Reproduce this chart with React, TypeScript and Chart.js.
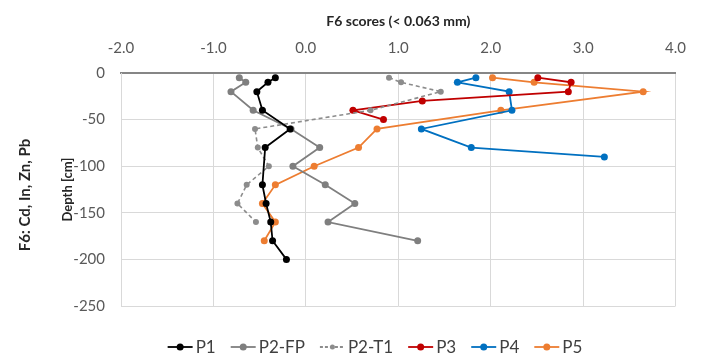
import React, { useEffect, useRef } from "react";
import { Chart, registerables } from "chart.js";

Chart.register(...registerables);

const FONT = "Lato, 'Open Sans', sans-serif";

const xTitle = "F6 scores (< 0.063 mm)";
const yTitle = "Depth [cm]";
const outerTitle = "F6: Cd, In, Zn, Pb";

const xMin = -2;
const xMax = 4;
const yMin = -250;
const yMax = 0;

const seriesNames = ["P1", "P2-FP", "P2-T1", "P3", "P4", "P5"];
const seriesColors = ["#000000", "#7f7f7f", "#8c8c8c", "#c00000", "#0070c0", "#ed7d31"];

const p1Depth = [-5, -10, -20, -40, -60, -80, -120, -140, -160, -180, -200];
const p1Score = [-0.33, -0.41, -0.53, -0.47, -0.17, -0.44, -0.47, -0.43, -0.38, -0.36, -0.21];

const p2fpDepth = [-5, -10, -20, -40, -60, -80, -100, -120, -140, -160, -180];
const p2fpScore = [-0.72, -0.65, -0.81, -0.57, -0.16, 0.15, -0.14, 0.21, 0.53, 0.24, 1.21];

const p2t1Depth = [-5, -10, -20, -40, -60, -80, -100, -120, -140, -160];
const p2t1Score = [0.9, 1.03, 1.46, 0.7, -0.55, -0.52, -0.4, -0.64, -0.74, -0.54];

const p3Depth = [-5, -10, -20, -30, -40, -50];
const p3Score = [2.51, 2.87, 2.84, 1.26, 0.51, 0.84];

const p4Depth = [-5, -10, -20, -40, -60, -80, -90];
const p4Score = [1.84, 1.64, 2.2, 2.23, 1.25, 1.79, 3.23];

const p5Depth = [-5, -10, -20, -40, -60, -80, -100, -120, -140, -160, -180];
const p5Score = [2.02, 2.47, 3.65, 2.11, 0.77, 0.57, 0.09, -0.33, -0.47, -0.33, -0.45];

const depths = [p1Depth, p2fpDepth, p2t1Depth, p3Depth, p4Depth, p5Depth];
const scores = [p1Score, p2fpScore, p2t1Score, p3Score, p4Score, p5Score];
const dashed = [false, false, true, false, false, false];

const extrasPlugin = {
  id: "extras",
  afterDraw(chart: any) {
    const ctx = chart.ctx as CanvasRenderingContext2D;
    // outer vertical label
    ctx.save();
    ctx.font = `bold 15px ${FONT}`;
    ctx.fillStyle = "#262626";
    ctx.textAlign = "center";
    ctx.textBaseline = "middle";
    ctx.translate(25, 195);
    ctx.rotate(-Math.PI / 2);
    ctx.fillText(outerTitle, 0, 0);
    ctx.restore();

    // legend
    ctx.save();
    ctx.font = `17px ${FONT}`;
    ctx.textBaseline = "middle";
    ctx.textAlign = "left";
    const lineLen = 25;
    const gapText = 3;
    const gapItem = 15;
    const ds = chart.data.datasets;
    const widths = ds.map((d: any) => lineLen + gapText + ctx.measureText(d.label).width);
    const total = widths.reduce((a: number, b: number) => a + b, 0) + gapItem * (ds.length - 1);
    let x = 375 - total / 2;
    const y = 347;
    ds.forEach((d: any, i: number) => {
      ctx.strokeStyle = d.borderColor;
      ctx.lineWidth = 1.8;
      ctx.setLineDash(d.borderDash && d.borderDash.length ? [3, 2] : []);
      ctx.beginPath();
      ctx.moveTo(x, y);
      ctx.lineTo(x + lineLen, y);
      ctx.stroke();
      ctx.setLineDash([]);
      ctx.fillStyle = d.borderColor;
      ctx.beginPath();
      ctx.arc(x + lineLen / 2, y, d.borderDash && d.borderDash.length ? 2.5 : 3.5, 0, Math.PI * 2);
      ctx.fill();
      ctx.fillStyle = "#404040";
      ctx.fillText(d.label, x + lineLen + gapText, y + 1);
      x += widths[i] + gapItem;
    });
    ctx.restore();
  },
};

export default function App() {
  const ref = useRef<HTMLCanvasElement | null>(null);

  useEffect(() => {
    if (!ref.current) return;
    Chart.defaults.font.family = FONT;
    const datasets = seriesNames.map((name, i) => ({
      label: name,
      data: scores[i].map((s, j) => ({ x: s, y: depths[i][j] })),
      borderColor: seriesColors[i],
      backgroundColor: seriesColors[i],
      pointBackgroundColor: seriesColors[i],
      pointBorderColor: seriesColors[i],
      pointRadius: dashed[i] ? 3 : 3.5,
      pointBorderWidth: 0,
      borderWidth: dashed[i] ? 1.6 : 1.8,
      borderDash: dashed[i] ? [4, 3] : [],
      showLine: true,
      tension: 0,
    }));

    const chart = new Chart(ref.current, {
      type: "scatter",
      data: { datasets },
      options: {
        animation: false,
        responsive: false,
        layout: { padding: { left: 40, right: 16, top: 0, bottom: 51 } },
        plugins: {
          legend: { display: false },
          tooltip: { enabled: false },
          title: { display: false },
        },
        scales: {
          x: {
            type: "linear",
            position: "top",
            min: xMin,
            max: xMax,
            ticks: {
              stepSize: 1,
              callback: (v: any) => Number(v).toFixed(1),
              font: { size: 15, family: FONT },
              color: "#595959",
              padding: 16,
            },
            grid: { color: "#d9d9d9", drawTicks: false, lineWidth: 1 },
            border: { color: "#868686", width: 2 },
            title: {
              display: true,
              text: xTitle,
              font: { size: 14, weight: "bold", family: FONT },
              color: "#262626",
              padding: { top: 13, bottom: 0 },
            },
            afterFit: (s: any) => {
              s.height = 73;
            },
          },
          y: {
            type: "linear",
            position: "left",
            min: yMin,
            max: yMax,
            ticks: {
              stepSize: 50,
              callback: (v: any) => String(v),
              font: { size: 15, family: FONT },
              color: "#595959",
              padding: 16,
            },
            grid: { color: "#d9d9d9", drawTicks: false, lineWidth: 1 },
            border: { color: "#d9d9d9", width: 1 },
            title: {
              display: true,
              text: yTitle,
              font: { size: 13, weight: "bold", family: FONT },
              color: "#262626",
              padding: { top: 20, bottom: 0 },
            },
            afterFit: (s: any) => {
              s.width = 81;
            },
          },
        },
      },
      plugins: [extrasPlugin],
    });
    return () => chart.destroy();
  }, []);

  return (
    <div style={{ position: "absolute", left: 0, top: 0, width: 702, height: 357, background: "#ffffff" }}>
      <canvas ref={ref} width={702} height={357} style={{ display: "block" }} />
    </div>
  );
}
